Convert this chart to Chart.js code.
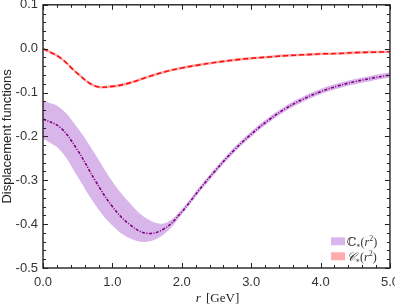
<!DOCTYPE html>
<html><head><meta charset="utf-8">
<script src="https://cdn.jsdelivr.net/npm/chart.js@4/dist/chart.umd.min.js"></script>
<style>html,body{margin:0;padding:0;background:#fff;overflow:hidden;width:395px;height:305px}
#wrap{width:406px;height:313px;position:absolute;left:0;top:-8px}</style>
</head><body><div id="wrap"><canvas id="c"></canvas></div>
<script>
// r values [GeV]
const rValues = [0,0.25,0.5,0.75,1.0,1.25,1.5,1.75,2.0,2.25,2.5,2.75,3.0,3.25,3.5,3.75,4.0,4.25,4.5,4.75,5.0];
// C*(r^2) (blackboard) central, upper, lower
const bbCentral = [-0.160,-0.180,-0.232,-0.300,-0.360,-0.401,-0.421,-0.410,-0.372,-0.322,-0.275,-0.232,-0.195,-0.163,-0.136,-0.115,-0.098,-0.085,-0.075,-0.067,-0.060];
const bbUpper   = [-0.118,-0.135,-0.181,-0.240,-0.303,-0.352,-0.388,-0.398,-0.366,-0.316,-0.269,-0.226,-0.189,-0.157,-0.130,-0.109,-0.092,-0.079,-0.069,-0.061,-0.054];
const bbLower   = [-0.205,-0.232,-0.292,-0.355,-0.403,-0.432,-0.440,-0.422,-0.378,-0.328,-0.281,-0.238,-0.201,-0.169,-0.142,-0.121,-0.104,-0.091,-0.081,-0.073,-0.066];
// C*(r^2) (calligraphic) central, upper, lower
const calCentral = [0.000,-0.021,-0.057,-0.085,-0.086,-0.078,-0.065,-0.053,-0.044,-0.037,-0.031,-0.026,-0.022,-0.019,-0.016,-0.014,-0.012,-0.011,-0.009,-0.008,-0.007];
const calUpper   = [0.003,-0.018,-0.054,-0.082,-0.083,-0.075,-0.062,-0.050,-0.041,-0.034,-0.028,-0.023,-0.019,-0.016,-0.013,-0.011,-0.009,-0.008,-0.006,-0.005,-0.004];
const calLower   = [-0.003,-0.024,-0.060,-0.088,-0.089,-0.081,-0.068,-0.056,-0.047,-0.040,-0.034,-0.029,-0.025,-0.022,-0.019,-0.017,-0.015,-0.014,-0.012,-0.011,-0.010];
// axes
const xTickValues = [0,1,2,3,4,5];
const yTickValues = [0.1,0.0,-0.1,-0.2,-0.3,-0.4,-0.5];
const legendLabels = ['\u2102', '\u{1D49E}'];

const pts = arr => arr.map((v,i)=>({x:rValues[i], y:v}));
const bandColor = 'rgb(217,182,234)';
const pinkColor = 'rgb(255,172,172)';

const framePlugin = {
  id:'frame',
  afterDatasetsDraw(chart){
    const {ctx, chartArea:a, scales:{x,y}} = chart;
    ctx.save();
    ctx.strokeStyle = '#222';
    ctx.lineWidth = 1;
    ctx.beginPath();
    for(let k=0;k<=25;k++){
      const v = k*0.2; const px = Math.round(x.getPixelForValue(v))+0.5;
      const len = (k%5===0)?5:3;
      ctx.moveTo(px,a.bottom); ctx.lineTo(px,a.bottom-len);
      ctx.moveTo(px,a.top); ctx.lineTo(px,a.top+len);
    }
    for(let k=0;k<=30;k++){
      const v = -0.5 + k*0.02; const py = Math.round(y.getPixelForValue(v))+0.5;
      const len = (k%5===0)?5:3;
      ctx.moveTo(a.left,py); ctx.lineTo(a.left+len,py);
      ctx.moveTo(a.right,py); ctx.lineTo(a.right-len,py);
    }
    ctx.stroke();
    ctx.lineWidth = 1.4;
    ctx.strokeRect(a.left, a.top, a.right-a.left, a.bottom-a.top);
    // x title
    ctx.fillStyle = '#222';
    ctx.textBaseline = 'alphabetic';
    const ty = a.bottom + 34;
    ctx.font = 'italic 13px "Liberation Serif", "DejaVu Serif", serif';
    const w1 = ctx.measureText('r').width;
    ctx.font = '13px "Liberation Serif", "DejaVu Serif", serif';
    const w2 = ctx.measureText(' [GeV]').width;
    let sx = (a.left+a.right)/2 - (w1+w2)/2;
    ctx.font = 'italic 13px "Liberation Serif", "DejaVu Serif", serif';
    ctx.fillText('r', sx, ty);
    ctx.font = '13px "Liberation Serif", "DejaVu Serif", serif';
    ctx.fillText(' [GeV]', sx+w1+2, ty);
    // legend
    const by0 = y.getPixelForValue(-0.43);
    const boxes = [[bandColor, legendLabels[0], by0], [pinkColor, legendLabels[1], by0+15]];
    for(const [col, lab, by] of boxes){
      ctx.fillStyle = col;
      ctx.fillRect(331, by, 14, 8);
      ctx.fillStyle = '#333';
      let tx = 347; const base = by+8.5;
      ctx.font = (lab==='\u2102'?'':'italic ')+'12px "DejaVu Serif", "Liberation Serif", serif';
      ctx.fillText(lab, tx, base); tx += ctx.measureText(lab).width;
      ctx.font = '7px "DejaVu Serif", serif';
      ctx.fillText('*', tx, base+3); tx += ctx.measureText('*').width+0.5;
      ctx.font = '12px "Liberation Serif", serif';
      ctx.fillText('(', tx, base); tx += ctx.measureText('(').width;
      ctx.font = 'italic 12px "Liberation Serif", serif';
      ctx.fillText('r', tx, base); tx += ctx.measureText('r').width;
      ctx.font = '8px "Liberation Serif", serif';
      ctx.fillText('2', tx, base-5); tx += ctx.measureText('2').width;
      ctx.font = '12px "Liberation Serif", serif';
      ctx.fillText(')', tx, base);
    }
    ctx.restore();
  }
};

new Chart(document.getElementById('c'), {
  type:'line',
  data:{
    datasets:[
      {data:pts(calCentral), order:0, borderColor:'#ff1010', borderWidth:1.6, borderDash:[5,3], pointRadius:0, fill:false, tension:0.4},
      {data:pts(calUpper), order:1, borderWidth:0, pointRadius:0, backgroundColor:pinkColor, fill:'+1', tension:0.4},
      {data:pts(calLower), order:2, borderWidth:0, pointRadius:0, backgroundColor:pinkColor, fill:false, tension:0.4},
      {data:pts(bbCentral), order:3, borderColor:'#800080', borderWidth:1.6, borderDash:[3,1.5,1,1.5], pointRadius:0, fill:false, tension:0.4},
      {data:pts(bbUpper), order:4, borderWidth:0, pointRadius:0, backgroundColor:bandColor, fill:'+1', tension:0.4},
      {data:pts(bbLower), order:5, borderWidth:0, pointRadius:0, backgroundColor:bandColor, fill:false, tension:0.4}
    ]
  },
  options:{
    responsive:true, maintainAspectRatio:false, animation:false,
    devicePixelRatio:1,
    layout:{padding:{top:4, right:6, left:0, bottom:0}},
    plugins:{legend:{display:false}, tooltip:{enabled:false}},
    scales:{
      x:{type:'linear', min:0, max:5,
        afterFit(s){ s.height = 37; },
        afterBuildTicks(s){ s.ticks = xTickValues.map(v=>({value:v})); },
        grid:{display:false, drawTicks:false}, border:{display:false},
        ticks:{padding:7, color:'#333', font:{family:'"Liberation Sans", Arial, sans-serif', size:13}, maxRotation:0,
          callback:v=>Number(v).toFixed(1)}
      },
      y:{type:'linear', min:-0.5, max:0.1,
        afterFit(s){ s.width = 43; },
        afterBuildTicks(s){ s.ticks = yTickValues.map(v=>({value:v})); },
        grid:{display:false, drawTicks:false}, border:{display:false},
        title:{display:true, text:'Displacement functions', color:'#222', padding:{top:0,bottom:2}, font:{family:'"Liberation Sans", Arial, sans-serif', size:13}},
        ticks:{padding:5, color:'#333', font:{family:'"Liberation Sans", Arial, sans-serif', size:13},
          callback:v=>Number(v).toFixed(1)}
      }
    }
  },
  plugins:[framePlugin]
});
</script></body></html>
